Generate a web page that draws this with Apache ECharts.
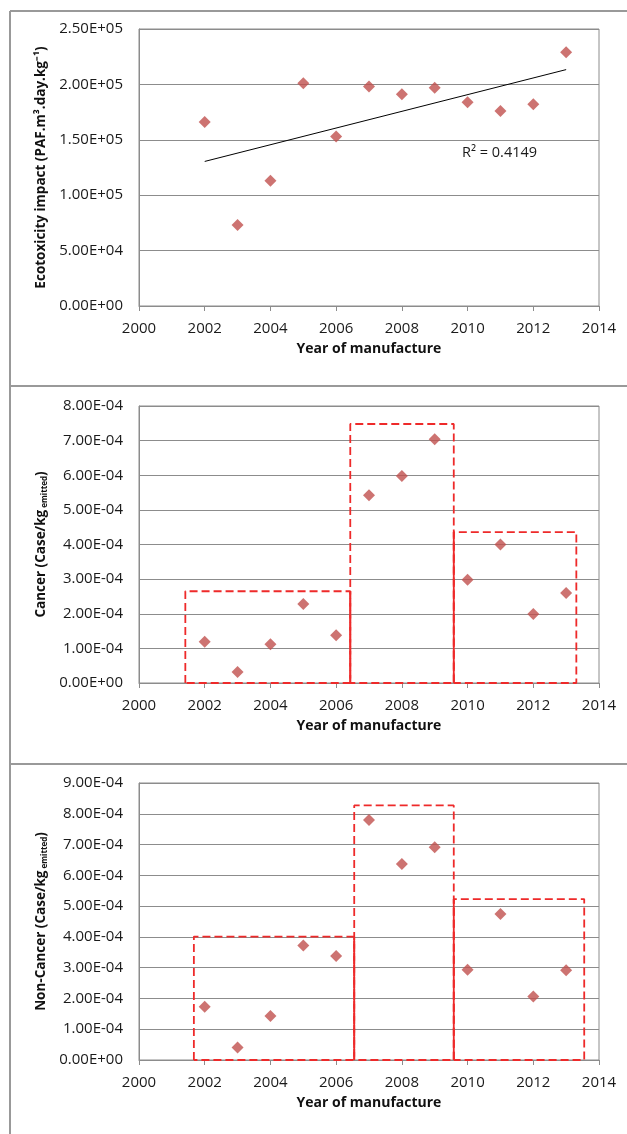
<!DOCTYPE html>
<html>
<head>
<meta charset="utf-8">
<script src="https://cdn.jsdelivr.net/npm/echarts@6/dist/echarts.min.js"></script>
<style>
  html, body { margin: 0; padding: 0; background: #fff; }
  #chart { width: 627px; height: 1134px; }
</style>
</head>
<body>
<div id="chart"></div>
<script>
// data
const years = [2002, 2003, 2004, 2005, 2006, 2007, 2008, 2009, 2010, 2011, 2012, 2013]
const ecotox = [1.66e5, 0.73e5, 1.13e5, 2.01e5, 1.53e5, 1.98e5, 1.91e5, 1.97e5, 1.84e5, 1.76e5, 1.82e5, 2.29e5]
const cancer = [1.19e-4, 0.32e-4, 1.12e-4, 2.28e-4, 1.38e-4, 5.42e-4, 5.98e-4, 7.04e-4, 2.98e-4, 4.0e-4, 1.99e-4, 2.6e-4]
const nonCancer = [1.73e-4, 0.41e-4, 1.43e-4, 3.72e-4, 3.38e-4, 7.8e-4, 6.37e-4, 6.91e-4, 2.93e-4, 4.74e-4, 2.06e-4, 2.92e-4]
// period boxes: [from year, to year, top]
const cancerBoxes = [[2001.41, 2006.43, 2.65e-4], [2006.43, 2009.58, 7.48e-4], [2009.58, 2013.31, 4.36e-4]]
const nonCancerBoxes = [[2001.67, 2006.55, 4.01e-4], [2006.55, 2009.58, 8.27e-4], [2009.58, 2013.55, 5.23e-4]]
const rSquaredText = 'R² = 0.4149'
const xTitle = 'Year of manufacture'

const FONT = 'Open Sans'
const RED = '#ee2a2a'
const MARK = '#c0504d'

// 2.50E+05 style
function sci(v) {
  let parts = v.toExponential(2).split('e')
  let e = parseInt(parts[1], 10)
  let s = e < 0 ? '-' : '+'
  e = Math.abs(e)
  return parts[0] + 'E' + s + (e < 10 ? '0' + e : e)
}

// least squares trend line
function trend(xs, ys) {
  let n = xs.length
  let mx = xs.reduce((a, b) => a + b, 0) / n
  let my = ys.reduce((a, b) => a + b, 0) / n
  let sxy = 0, sxx = 0
  for (let i = 0; i < n; i++) {
    sxy += (xs[i] - mx) * (ys[i] - my)
    sxx += (xs[i] - mx) * (xs[i] - mx)
  }
  let k = sxy / sxx
  let b = my - k * mx
  return [[xs[0], k * xs[0] + b], [xs[n - 1], k * xs[n - 1] + b]]
}

const grids = [
  { left: 139, top: 29, width: 460, height: 277 },
  { left: 139, top: 406, width: 460, height: 277 },
  { left: 139, top: 783, width: 460, height: 277 }
].map(g => Object.assign(g, { show: true, borderColor: '#8c8c8c', borderWidth: 1, backgroundColor: '#fff' }))

function makeX(i) {
  return {
    type: 'value', gridIndex: i, min: 2000, max: 2014, interval: 2,
    name: xTitle, nameLocation: 'middle', nameGap: 36,
    nameTextStyle: { fontFamily: FONT, fontWeight: 'bold', fontSize: 14, color: '#111' },
    axisLine: { show: true, onZero: false, lineStyle: { color: '#8c8c8c', width: 1 } },
    axisTick: { show: true, inside: false, length: 5, lineStyle: { color: '#8c8c8c' } },
    axisLabel: { fontFamily: FONT, fontSize: 15, color: '#1a1a1a', margin: 15, formatter: v => String(v) },
    splitLine: { show: false }
  }
}

function makeY(i, max, step, name) {
  return {
    type: 'value', gridIndex: i, min: 0, max: max, interval: step,
    name: name, nameLocation: 'middle', nameGap: 88, nameRotate: 90,
    nameTextStyle: {
      fontFamily: FONT, fontWeight: 'bold', fontSize: 13.5, color: '#111',
      rich: {
        b: { fontFamily: FONT, fontWeight: 'bold', fontSize: 13.5, color: '#111' },
        sub: { fontFamily: FONT, fontWeight: 'bold', fontSize: 8, color: '#111', verticalAlign: 'bottom' }
      }
    },
    axisLine: { show: true, lineStyle: { color: '#8c8c8c', width: 1 } },
    axisTick: { show: false },
    axisLabel: { fontFamily: FONT, fontSize: 15, color: '#1a1a1a', margin: 16, formatter: sci },
    splitLine: { show: true, lineStyle: { color: '#8c8c8c', width: 1 } }
  }
}

function scatter(i, vals) {
  return {
    type: 'scatter', xAxisIndex: i, yAxisIndex: i, symbol: 'diamond', symbolSize: 12,
    itemStyle: { color: MARK }, z: 5,
    data: years.map((y, k) => [y, vals[k]])
  }
}

function boxSeries(i, boxes) {
  let out = []
  boxes.forEach(b => {
    out.push({
      type: 'line', xAxisIndex: i, yAxisIndex: i, silent: true, symbol: 'none', z: 3,
      lineStyle: { color: RED, width: 1.8, type: [8, 4] },
      data: [[b[0], 0], [b[0], b[2]], [b[1], b[2]], [b[1], 0], [b[0], 0]]
    })
  })
  // shared walls look solid where two dashed edges overlap
  for (let k = 0; k < boxes.length - 1; k++) {
    if (boxes[k][1] === boxes[k + 1][0]) {
      let x = boxes[k][1]
      out.push({
        type: 'line', xAxisIndex: i, yAxisIndex: i, silent: true, symbol: 'none', z: 3,
        lineStyle: { color: RED, width: 1.8 },
        data: [[x, 0], [x, Math.min(boxes[k][2], boxes[k + 1][2])]]
      })
    }
  }
  return out
}

const panelLine = { stroke: '#999', lineWidth: 2 }

let option = {
  backgroundColor: '#fff',
  animation: false,
  grid: grids,
  xAxis: [makeX(0), makeX(1), makeX(2)],
  yAxis: [
    makeY(0, 2.5e5, 5e4, '{b|Ecotoxicity impact (PAF.m³.day.kg⁻¹)}'),
    makeY(1, 8e-4, 1e-4, '{b|Cancer (Case/kg}{sub| emitted}{b|)}'),
    makeY(2, 9e-4, 1e-4, '{b|Non-Cancer (Case/kg}{sub| emitted}{b|)}')
  ],
  graphic: [
    { type: 'line', shape: { x1: 10, y1: 11, x2: 10, y2: 1134 }, style: panelLine },
    { type: 'line', shape: { x1: 10, y1: 11, x2: 627, y2: 11 }, style: panelLine },
    { type: 'line', shape: { x1: 10, y1: 386, x2: 627, y2: 386 }, style: panelLine },
    { type: 'line', shape: { x1: 10, y1: 764, x2: 627, y2: 764 }, style: panelLine },
    {
      type: 'text', left: 462, top: 145, z: 10,
      style: { text: rSquaredText, fontFamily: FONT, fontSize: 14.5, fill: '#1a1a1a' }
    }
  ],
  series: [
    {
      type: 'line', xAxisIndex: 0, yAxisIndex: 0, silent: true, symbol: 'none', z: 4,
      lineStyle: { color: '#000', width: 1 },
      data: trend(years, ecotox)
    },
    scatter(0, ecotox),
    ...boxSeries(1, cancerBoxes),
    scatter(1, cancer),
    ...boxSeries(2, nonCancerBoxes),
    scatter(2, nonCancer)
  ]
}

let chart = echarts.init(document.getElementById('chart'))
chart.setOption(option)
</script>
</body>
</html>
